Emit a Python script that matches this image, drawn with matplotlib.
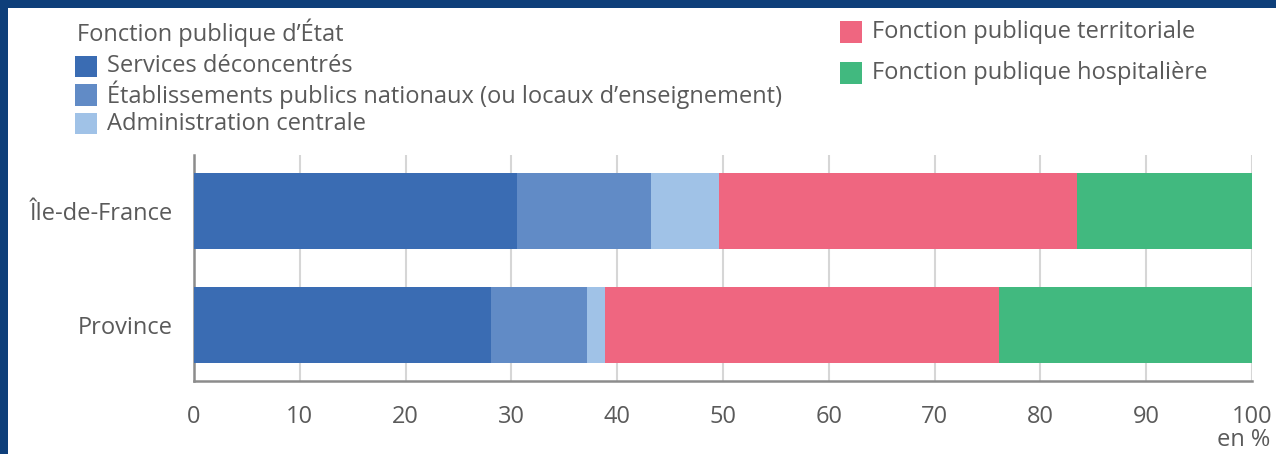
import matplotlib.pyplot as plt
from matplotlib.patches import Rectangle

plt.rcParams['font.family'] = ['Open Sans', 'DejaVu Sans']

regions = ['Île-de-France', 'Province']
series = ['Services déconcentrés',
          'Établissements publics nationaux (ou locaux d’enseignement)',
          'Administration centrale',
          'Fonction publique territoriale',
          'Fonction publique hospitalière']
services = [30.5, 28.1]
etablissements = [12.7, 9.0]
administration = [6.4, 1.7]
territoriale = [33.9, 37.3]
hospitaliere = [16.5, 23.9]
colors = ['#3a6cb3', '#618bc6', '#a0c2e7', '#ef6680', '#41b97f']

txt = '#5a5a5a'
fs = 17
W, H = 1276, 454
fig = plt.figure(figsize=(W / 100, H / 100), dpi=100)
ax = fig.add_axes([194 / W, (H - 381) / H, (1252 - 194) / W, (381 - 155) / H])

values = [services, etablissements, administration, territoriale, hospitaliere]
left = [0, 0]
for vals, col in zip(values, colors):
    ax.barh(range(len(regions)), vals, left=left, height=0.667, color=col,
            linewidth=0, zorder=3)
    left = [l + v for l, v in zip(left, vals)]

ax.set_xlim(0, 100)
ax.set_ylim(1.49, -0.49)
ax.set_yticks(range(len(regions)))
ax.set_yticklabels(regions)
ax.set_xticks(range(0, 101, 10))
ax.tick_params(length=0, labelsize=fs, labelcolor=txt)
ax.tick_params(axis='x', pad=17)
ax.tick_params(axis='y', pad=15)
ax.grid(axis='x', color='#d6d6d6', linewidth=1.5, zorder=0)
for s in ['top', 'right']:
    ax.spines[s].set_visible(False)
for s in ['left', 'bottom']:
    ax.spines[s].set_color('#8c8c8c')
    ax.spines[s].set_linewidth(1.8)
fig.text(1270 / W, 1 - 440 / H, 'en %', ha='right', va='center', fontsize=fs, color=txt)

# legend
fig.text(77 / W, 1 - 33 / H, 'Fonction publique d’État', ha='left', va='center',
         fontsize=fs, color=txt)
leg_pos = [(75, 66.5), (75, 95), (75, 123.5), (840, 32), (840, 73)]
for (x, y), lab, col in zip(leg_pos, series, colors):
    fig.patches.append(Rectangle((x / W, 1 - (y + 10.5) / H), 22 / W, 21 / H,
                                 transform=fig.transFigure, color=col, linewidth=0))
    fig.text((x + 32) / W, 1 - y / H, lab, ha='left', va='center', fontsize=fs, color=txt)

# frame
fig.patches.append(Rectangle((0, 1 - 8 / H), 1, 8 / H, transform=fig.transFigure,
                             color='#0e3f7a', linewidth=0))
fig.patches.append(Rectangle((0, 0), 8 / W, 1, transform=fig.transFigure,
                             color='#0e3f7a', linewidth=0))

fig.savefig('out.png', dpi=100)
